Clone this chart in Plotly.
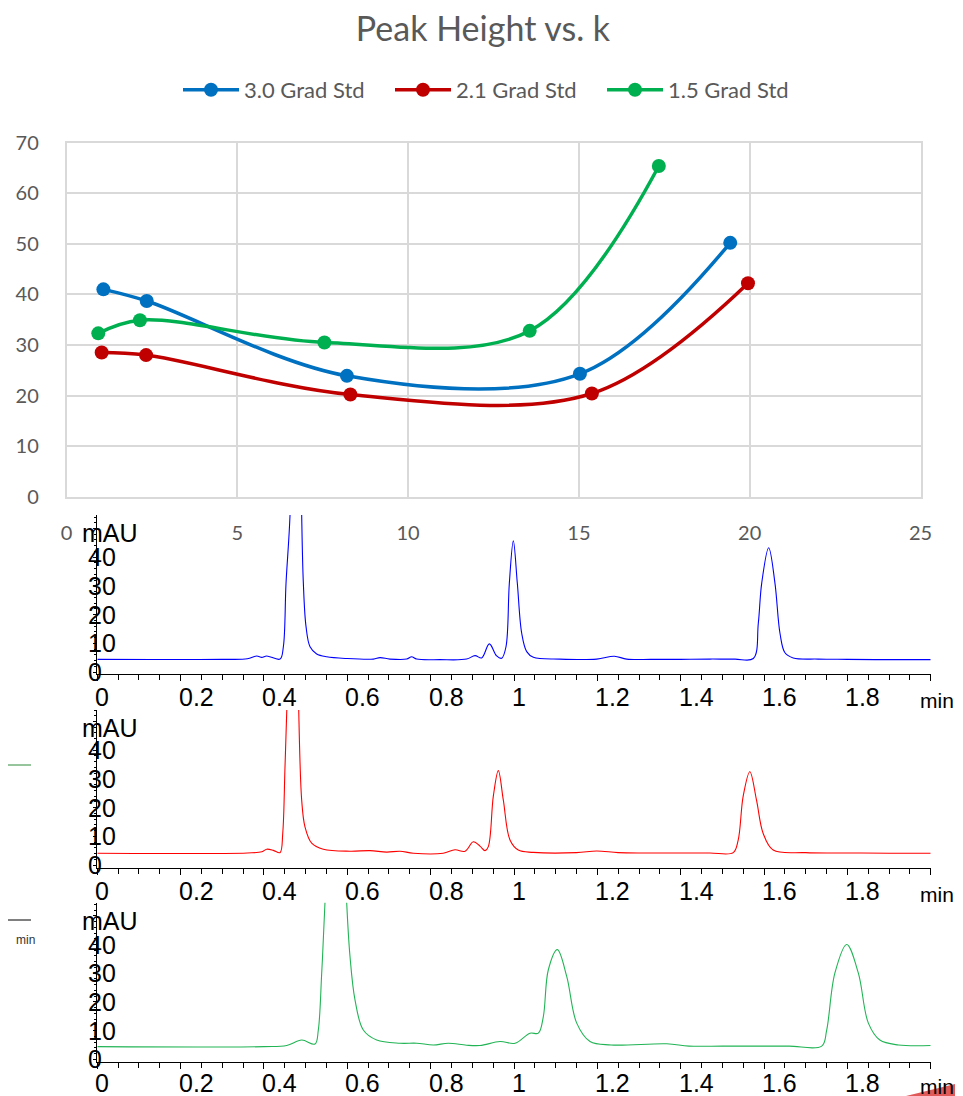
import plotly.graph_objects as go

# the page shows the figure 8 px in from the top-left corner, so the figure is 8 px smaller
OFF = 8
W, H = 963 - OFF, 1096 - OFF

# ---------------- Top chart data: Peak Height vs. k ----------------
series_names = ["3.0 Grad Std", "2.1 Grad Std", "1.5 Grad Std"]
series_colors = ["#0070C0", "#C00000", "#00B050"]
k_30 = [1.08, 2.35, 8.21, 15.03, 19.43]
h_30 = [41.0, 38.7, 23.9, 24.3, 50.2]
k_21 = [1.03, 2.33, 8.31, 15.38, 19.95]
h_21 = [28.5, 28.0, 20.2, 20.4, 42.2]
k_15 = [0.93, 2.15, 7.55, 13.56, 17.34]
h_15 = [32.3, 34.9, 30.5, 32.8, 65.4]

# ---------------- Chromatogram traces (time in min, signal in mAU) ----------------
t_blue = [0.0, 0.30, 0.36, 0.3825, 0.395, 0.4065, 0.4385, 0.4465, 0.4529, 0.4625, 0.470, 0.478, 0.486,
          0.4905, 0.4945, 0.5009, 0.5105, 0.5265, 0.5505, 0.5985, 0.6625, 0.6784, 0.7024, 0.7424, 0.7544,
          0.7664, 0.8224, 0.8864, 0.9064, 0.9224, 0.9408, 0.9584, 0.9704, 0.9808, 0.9888, 0.9984, 1.008,
          1.0185, 1.0305, 1.0465, 1.110, 1.1985, 1.2408, 1.2704, 1.33, 1.40, 1.47, 1.53, 1.5743, 1.5863,
          1.5944, 1.6112, 1.6263, 1.6383, 1.6503, 1.670, 1.73, 1.80, 1.90, 2.0]
mau_blue = [4.4, 4.4, 4.6, 5.6, 5.1, 5.6, 4.5, 8.8, 30.9, 54.7, 110, 140, 110,
            54.7, 30.9, 15.8, 8.8, 6.3, 5.3, 4.7, 4.5, 5.0, 4.5, 4.5, 5.3,
            4.5, 4.3, 4.5, 5.7, 4.9, 9.8, 5.6, 4.8, 8.8, 30.9, 45.7, 30.9,
            13.5, 7.1, 5.1, 4.5, 4.5, 5.5, 4.5, 4.4, 4.4, 4.5, 4.5, 4.7, 17.0,
            30.9, 43.3, 30.9, 13.5, 6.7, 4.9, 4.5, 4.4, 4.3, 4.3]

t_red = [0.0, 0.36, 0.395, 0.4065, 0.4224, 0.4385, 0.445, 0.4504, 0.456, 0.463, 0.470, 0.477, 0.4824,
         0.4905, 0.4984, 0.5145, 0.5424, 0.6064, 0.6545, 0.6945, 0.7264, 0.7584, 0.83, 0.8584, 0.8824,
         0.9024, 0.9184, 0.9304, 0.9384, 0.9504, 0.9624, 0.9744, 0.9904, 1.0103, 1.046, 1.15, 1.1985,
         1.25, 1.32, 1.40, 1.47, 1.526, 1.538, 1.550, 1.566, 1.582, 1.598, 1.622, 1.70, 1.80, 1.90, 2.0]
mau_red = [4.1, 4.2, 4.6, 5.5, 5.1, 4.3, 11.0, 34.0, 60, 100, 120, 100, 60,
           22.6, 13.3, 7.6, 5.5, 4.8, 5.0, 4.5, 4.8, 4.1, 4.1, 5.3, 4.8,
           8.1, 6.6, 5.0, 6.4, 24.0, 32.9, 22.6, 8.7, 5.2, 4.4, 4.3, 4.9,
           4.3, 4.2, 4.2, 4.2, 4.3, 8.7, 24.0, 32.5, 22.6, 11.0, 5.2, 4.3, 4.2, 4.1, 4.1]

t_green = [0.0, 0.40, 0.4545, 0.4905, 0.5224, 0.5304, 0.5385, 0.5464, 0.560, 0.572, 0.585, 0.5985,
           0.6064, 0.6184, 0.6384, 0.6705, 0.7264, 0.7665, 0.8064, 0.8424, 0.8864, 0.9184, 0.9664,
           1.0024, 1.0384, 1.0584, 1.0704, 1.0824, 1.104, 1.1265, 1.1505, 1.1824, 1.2328, 1.3665,
           1.42, 1.50, 1.58, 1.66, 1.7385, 1.7504, 1.770, 1.7985, 1.8264, 1.8504, 1.878, 1.9225, 2.0]
mau_green = [4.4, 4.4, 4.8, 6.7, 5.3, 10.2, 30.0, 54.6, 110, 130, 110, 54.6,
             35.9, 20.7, 10.2, 6.7, 5.6, 5.6, 5.0, 5.6, 4.9, 4.8, 6.2,
             5.6, 9.1, 9.1, 14.9, 31.2, 38.2, 28.9, 12.6, 6.2, 5.0, 5.4,
             4.6, 4.6, 4.6, 4.6, 4.6, 10.2, 30.0, 40.0, 30.0, 12.6, 6.7, 5.0, 4.8]

chrom_colors = ["#0000FF", "#FF0000", "#22B455"]
chrom_x_ticks = [0, 0.2, 0.4, 0.6, 0.8, 1.0, 1.2, 1.4, 1.6, 1.8]
chrom_x_ticktext = ["0", "0.2", "0.4", "0.6", "0.8", "1", "1.2", "1.4", "1.6", "1.8"]
chrom_y_ticks = [0, 10, 20, 30, 40]
chrom_y_ticktext = ["0", "10", "20", "30", "40"]


def px(x):
    return max(0.0, (x - OFF) / W)


def py(y):
    return min(1.0, 1 - (y - OFF) / H)


fig = go.Figure()

# ---- top chart ----
for name, color, kx, hy in [(series_names[0], series_colors[0], k_30, h_30),
                            (series_names[1], series_colors[1], k_21, h_21),
                            (series_names[2], series_colors[2], k_15, h_15)]:
    fig.add_trace(go.Scatter(x=kx, y=hy, name=name, mode="lines+markers",
                             line=dict(color=color, width=3.5, shape="spline", smoothing=1.0),
                             marker=dict(color=color, size=14),
                             xaxis="x", yaxis="y"))

# ---- chromatograms ----
for i, (tt, mm) in enumerate([(t_blue, mau_blue), (t_red, mau_red), (t_green, mau_green)]):
    fig.add_trace(go.Scatter(x=tt, y=mm, mode="lines", showlegend=False,
                             line=dict(color=chrom_colors[i], width=1.1, shape="spline", smoothing=1.0),
                             xaxis="x%d" % (i + 2), yaxis="y%d" % (i + 2)))

grid = "#D9D9D9"
tickfont_top = dict(family="Lato", size=20, color="#595959")
fig.update_layout(
    width=W, height=H,
    margin=dict(l=0, r=0, t=0, b=0, autoexpand=False),
    paper_bgcolor="white", plot_bgcolor="white",
    title=dict(text="Peak Height vs. k", x=px(483), xanchor="center", y=py(29), yanchor="middle",
               font=dict(family="Lato", size=34, color="#595959")),
    legend=dict(orientation="h", x=px(178), xanchor="left", y=py(90), yanchor="middle",
                font=dict(family="Lato", size=22, color="#595959"), itemwidth=56,
                entrywidth=141, entrywidthmode="pixels", bgcolor="rgba(0,0,0,0)"),
    xaxis=dict(domain=[px(66.5), px(920.5)], range=[0, 25], dtick=5, tick0=0, automargin=False,
               showgrid=True, gridcolor=grid, gridwidth=1.5, zeroline=False,
               showline=True, linecolor=grid, linewidth=1.5, mirror=True,
               ticks="", tickfont=tickfont_top, ticklabelstandoff=18, anchor="y"),
    yaxis=dict(domain=[py(496.7), py(142.7)], range=[0, 70], dtick=10, tick0=0, automargin=False,
               showgrid=True, gridcolor=grid, gridwidth=1.5, zeroline=False,
               showline=True, linecolor=grid, linewidth=1.5, mirror=True,
               ticks="", tickfont=tickfont_top, ticklabelstandoff=22, anchor="x"),
)

# chromatogram panels: (axis bottom px, axis top px, px of y=0, x-label row px, mAU row px)
panels = [(674.0, 515.0, 672.0, 697.0, 533.0),
          (867.7, 710.0, 865.0, 891.0, 728.0),
          (1061.7, 902.7, 1059.3, 1083.0, 921.0)]
pxu = 2.87
afont = dict(family="Liberation Sans", size=25, color="black")
minfont = dict(family="Liberation Sans", size=21, color="black")
annotations = []
for i, (yb, yt, y0, ylab, ymau) in enumerate(panels):
    n = i + 2
    vmin = -(yb - y0) / pxu
    vmax = (y0 - yt) / pxu
    fig.update_layout(**{
        "xaxis%d" % n: dict(domain=[px(97.3), px(930.7)], range=[0, 2.0], anchor="y%d" % n,
                            automargin=False,
                            showgrid=False, zeroline=False, showline=True, linecolor="black", linewidth=1,
                            tickvals=[0.2 * j for j in range(11)], ticks="outside", ticklen=6,
                            tickcolor="black", tickwidth=1, showticklabels=False,
                            minor=dict(dtick=0.05, tick0=0, ticks="outside", ticklen=5,
                                       tickcolor="black", tickwidth=1)),
        "yaxis%d" % n: dict(domain=[py(yb), py(yt)], range=[vmin, vmax], anchor="x%d" % n,
                            automargin=False,
                            showgrid=False, zeroline=False, showline=True, linecolor="black", linewidth=1,
                            dtick=10, tick0=0, ticks="outside", ticklen=3, tickcolor="black",
                            showticklabels=False,
                            minor=dict(dtick=2, ticks="outside", ticklen=2, tickcolor="black")),
    })
    for v, s in zip(chrom_y_ticks, chrom_y_ticktext):
        annotations.append(dict(xref="paper", x=px(86), xanchor="left", yref="y%d" % n, y=v,
                                yanchor="middle", text=s, showarrow=False, font=afont))
    for v, s in zip(chrom_x_ticks, chrom_x_ticktext):
        annotations.append(dict(xref="x%d" % n, x=v, xanchor="left", xshift=-4, yref="paper", y=py(ylab),
                                yanchor="middle", text=s, showarrow=False, font=afont))
    annotations.append(dict(xref="paper", x=px(918), xanchor="left", yref="paper", y=py(ylab + 3),
                            yanchor="middle", text="min", showarrow=False, font=minfont))
    annotations.append(dict(xref="paper", x=px(80), xanchor="left", yref="paper", y=py(ymau),
                            yanchor="middle", text="mAU", showarrow=False, font=afont))

# stray fragments at the left edge and bottom-right corner of the composite picture
annotations.append(dict(xref="paper", x=px(14), xanchor="left", yref="paper", y=py(940), yanchor="middle",
                        text="min", showarrow=False, font=dict(family="Liberation Sans", size=12, color="#333")))
shapes = [
    dict(type="line", xref="paper", yref="paper", x0=0, x1=px(31), y0=py(765), y1=py(765),
         line=dict(color="#2E8B3A", width=1)),
    dict(type="line", xref="paper", yref="paper", x0=0, x1=px(31), y0=py(920), y1=py(920),
         line=dict(color="black", width=1)),
    dict(type="path", xref="paper", yref="paper",
         path="M %f,%f L 1,%f L 1,0 Z" % (px(906), 0, py(1082)),
         fillcolor="#E05A5A", line=dict(width=0)),
]
fig.update_layout(annotations=annotations, shapes=shapes)

fig.write_html("out.html")
